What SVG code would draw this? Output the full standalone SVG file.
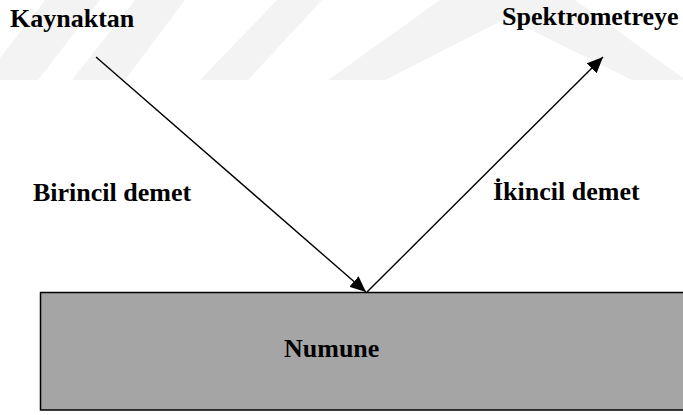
<svg xmlns="http://www.w3.org/2000/svg" width="683" height="415" viewBox="0 0 683 415">
<style>
.wm{fill:#f3f3f3}
.beam{stroke:#000;stroke-width:1.4;fill:none}
</style>
<defs>
<marker id="ah" markerUnits="userSpaceOnUse" markerWidth="18" markerHeight="14" refX="16" refY="7" orient="auto">
<path d="M0,0 L16,7 L0,14 Z" fill="#000"/>
</marker>
</defs>
<rect x="0" y="0" width="683" height="415" fill="#fff"/>
<g id="watermark">
<polygon class="wm" points="45,0 100,0 38,80 -17,80"/>
<polygon class="wm" points="135,0 185,0 125,80 72,80"/>
<polygon class="wm" points="277,0 322,0 248,80 200,80"/>
<polygon class="wm" points="328,80 440,0 575,0 683,78 683,80 632,80 507,18 385,80"/>
</g>
<g font-family="Liberation Serif, Times New Roman, DejaVu Serif, serif" font-weight="bold" font-size="26" fill="#000">
<g id="numune">
<rect x="40.5" y="292.5" width="660" height="117.5" fill="#a5a5a5" stroke="#000" stroke-width="1.5"/>
<text x="284" y="357">Numune</text>
</g>
<g id="kaynaktan"><text x="10" y="27">Kaynaktan</text></g>
<g id="spektrometreye"><text x="502" y="25">Spektrometreye</text></g>
<g id="birincil"><text x="33" y="201">Birincil demet</text></g>
<g id="ikincil"><text x="493" y="200">İkincil demet</text></g>
</g>
<g id="connectors">
<line class="beam" x1="96" y1="57" x2="366" y2="292" marker-end="url(#ah)"/>
<line class="beam" x1="367" y1="292" x2="603" y2="57" marker-end="url(#ah)"/>
</g>
</svg>
